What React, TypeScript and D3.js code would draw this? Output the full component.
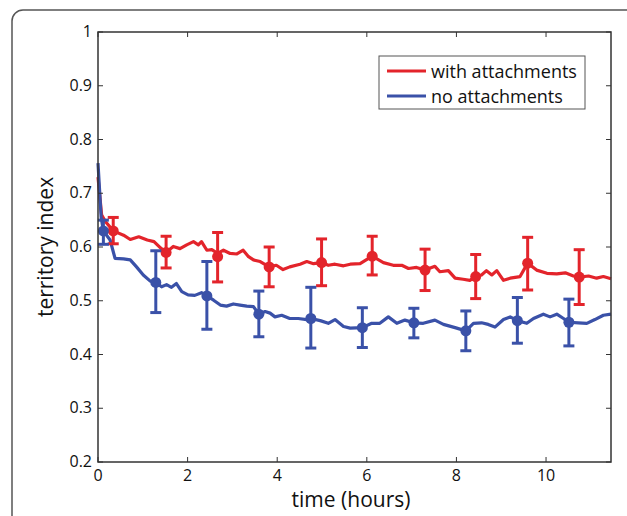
import React from 'react';
import * as d3 from 'd3';

// time (hours) and territory index
const redX = [0, 0.08, 0.16, 0.34, 0.57, 0.72, 0.91, 1.1, 1.25, 1.4, 1.52, 1.68, 1.83, 1.98, 2.13, 2.24, 2.31, 2.43, 2.54, 2.67, 2.8, 2.95, 3.1, 3.24, 3.36, 3.47, 3.62, 3.82, 3.98, 4.13, 4.28, 4.51, 4.66, 4.81, 4.99, 5.14, 5.29, 5.48, 5.63, 5.85, 6.12, 6.37, 6.59, 6.78, 6.93, 7.11, 7.3, 7.52, 7.63, 7.82, 7.97, 8.15, 8.3, 8.43, 8.56, 8.67, 8.79, 8.9, 9.05, 9.2, 9.42, 9.59, 9.79, 10.02, 10.24, 10.43, 10.61, 10.74, 10.95, 11.13, 11.28, 11.45];
const redY = [0.73, 0.66, 0.648, 0.63, 0.622, 0.614, 0.619, 0.613, 0.61, 0.598, 0.59, 0.601, 0.597, 0.604, 0.61, 0.604, 0.61, 0.594, 0.595, 0.588, 0.594, 0.588, 0.587, 0.594, 0.582, 0.576, 0.573, 0.563, 0.566, 0.558, 0.563, 0.568, 0.573, 0.569, 0.571, 0.566, 0.568, 0.565, 0.568, 0.569, 0.583, 0.571, 0.566, 0.566, 0.56, 0.562, 0.557, 0.564, 0.554, 0.556, 0.542, 0.54, 0.538, 0.545, 0.548, 0.556, 0.548, 0.556, 0.538, 0.542, 0.545, 0.57, 0.557, 0.551, 0.55, 0.552, 0.546, 0.544, 0.546, 0.542, 0.545, 0.541];

const blueX = [0, 0.07, 0.12, 0.27, 0.38, 0.57, 0.72, 0.86, 1.01, 1.16, 1.29, 1.42, 1.53, 1.64, 1.75, 1.87, 2.01, 2.16, 2.31, 2.43, 2.58, 2.73, 2.87, 3.02, 3.17, 3.32, 3.47, 3.59, 3.73, 3.84, 3.95, 4.1, 4.28, 4.47, 4.66, 4.75, 4.96, 5.14, 5.29, 5.48, 5.63, 5.9, 6.11, 6.29, 6.48, 6.67, 6.85, 7.05, 7.26, 7.52, 7.71, 7.97, 8.21, 8.38, 8.56, 8.71, 8.86, 9.05, 9.2, 9.36, 9.57, 9.72, 9.94, 10.09, 10.24, 10.39, 10.51, 10.72, 10.91, 11.09, 11.28, 11.45];
const blueY = [0.756, 0.656, 0.63, 0.613, 0.579, 0.578, 0.576, 0.563, 0.548, 0.537, 0.534, 0.526, 0.53, 0.525, 0.532, 0.517, 0.511, 0.51, 0.515, 0.509, 0.501, 0.492, 0.49, 0.494, 0.492, 0.49, 0.489, 0.475, 0.48, 0.477, 0.47, 0.473, 0.467, 0.467, 0.465, 0.467, 0.463, 0.458, 0.465, 0.452, 0.449, 0.45, 0.458, 0.458, 0.47, 0.458, 0.464, 0.459, 0.458, 0.464, 0.456, 0.45, 0.444, 0.458, 0.459, 0.456, 0.451, 0.465, 0.47, 0.463, 0.458, 0.467, 0.475, 0.47, 0.475, 0.467, 0.46, 0.459, 0.458, 0.465, 0.473, 0.475];

// error bar points: x, mean, low, high
const redErrX = [0.34, 1.52, 2.67, 3.82, 4.99, 6.12, 7.3, 8.43, 9.59, 10.74];
const redErrMean = [0.63, 0.59, 0.582, 0.563, 0.571, 0.583, 0.557, 0.545, 0.57, 0.544];
const redErrLow = [0.606, 0.561, 0.535, 0.526, 0.528, 0.548, 0.519, 0.504, 0.52, 0.493];
const redErrHigh = [0.655, 0.62, 0.627, 0.6, 0.615, 0.62, 0.596, 0.586, 0.618, 0.595];

const blueErrX = [0.12, 1.29, 2.43, 3.59, 4.75, 5.9, 7.05, 8.21, 9.36, 10.51];
const blueErrMean = [0.63, 0.534, 0.509, 0.475, 0.467, 0.45, 0.459, 0.444, 0.463, 0.46];
const blueErrLow = [0.605, 0.478, 0.447, 0.433, 0.412, 0.413, 0.431, 0.407, 0.421, 0.416];
const blueErrHigh = [0.65, 0.593, 0.573, 0.518, 0.525, 0.487, 0.486, 0.481, 0.506, 0.503];

const xTicks = [0, 2, 4, 6, 8, 10];
const yTicks = [0.2, 0.3, 0.4, 0.5, 0.6, 0.7, 0.8, 0.9, 1];

const RED = '#e3242b';
const BLUE = '#3a51a8';
const FONT = "'Open Sans', sans-serif";

const App = () => {
  const left = 98, right = 611, top = 32, bottom = 462;
  const x = d3.scaleLinear().domain([0, 11.45]).range([left, right]);
  const y = d3.scaleLinear().domain([0.2, 1]).range([bottom, top]);

  const line = d3.line<number>().x((d) => x(d[0])).y((d) => y(d[1]));
  const redPts = redX.map((v, i) => [v, redY[i]]);
  const bluePts = blueX.map((v, i) => [v, blueY[i]]);

  const errBars = (xs, mean, low, high, color) =>
    xs.map((v, i) => (
      <g key={i} stroke={color} strokeWidth={3} fill={color}>
        <line x1={x(v)} x2={x(v)} y1={y(low[i])} y2={y(high[i])} />
        <line x1={x(v) - 5.5} x2={x(v) + 5.5} y1={y(low[i])} y2={y(low[i])} />
        <line x1={x(v) - 5.5} x2={x(v) + 5.5} y1={y(high[i])} y2={y(high[i])} />
        <circle cx={x(v)} cy={y(mean[i])} r={5.5} stroke="none" />
      </g>
    ));

  return (
    <svg width={627} height={516} style={{ position: 'fixed', left: 0, top: 0, background: '#fff' }}>
      <rect x={12} y={10} width={640} height={540} rx={11} fill="none" stroke="#555" strokeWidth={1.5} />

      <path d={line(redPts as any) || ''} fill="none" stroke={RED} strokeWidth={3.2} strokeLinejoin="round" />
      <path d={line(bluePts as any) || ''} fill="none" stroke={BLUE} strokeWidth={3.2} strokeLinejoin="round" />
      {errBars(redErrX, redErrMean, redErrLow, redErrHigh, RED)}
      {errBars(blueErrX, blueErrMean, blueErrLow, blueErrHigh, BLUE)}

      <rect x={left} y={top} width={right - left} height={bottom - top} fill="none" stroke="#333" strokeWidth={1.5} />
      {xTicks.map((t) => (
        <g key={'x' + t}>
          <line x1={x(t)} x2={x(t)} y1={bottom} y2={bottom - 5} stroke="#333" />
          <line x1={x(t)} x2={x(t)} y1={top} y2={top + 5} stroke="#333" />
          <text x={x(t)} y={bottom + 19} textAnchor="middle" fontFamily={FONT} fontSize={16} fill="#111">{t}</text>
        </g>
      ))}
      {yTicks.map((t) => (
        <g key={'y' + t}>
          <line x1={left} x2={left + 5} y1={y(t)} y2={y(t)} stroke="#333" />
          <line x1={right} x2={right - 5} y1={y(t)} y2={y(t)} stroke="#333" />
          <text x={left - 6} y={y(t) + 5} textAnchor="end" fontFamily={FONT} fontSize={16} fill="#111">{t}</text>
        </g>
      ))}

      <text x={351} y={507} textAnchor="middle" fontFamily={FONT} fontSize={21} fill="#111">time (hours)</text>
      <text transform={`translate(53,${(top + bottom) / 2}) rotate(-90)`} textAnchor="middle" fontFamily={FONT} fontSize={21} fill="#111">territory index</text>

      <rect x={379} y={56} width={206} height={53} fill="#fff" stroke="#555" strokeWidth={1} />
      <line x1={387} x2={426} y1={71} y2={71} stroke={RED} strokeWidth={3} />
      <line x1={387} x2={426} y1={96} y2={96} stroke={BLUE} strokeWidth={3} />
      <text x={431} y={78} fontFamily={FONT} fontSize={18} fill="#111">with attachments</text>
      <text x={431} y={103} fontFamily={FONT} fontSize={18} fill="#111">no attachments</text>
    </svg>
  );
};

export default App;
